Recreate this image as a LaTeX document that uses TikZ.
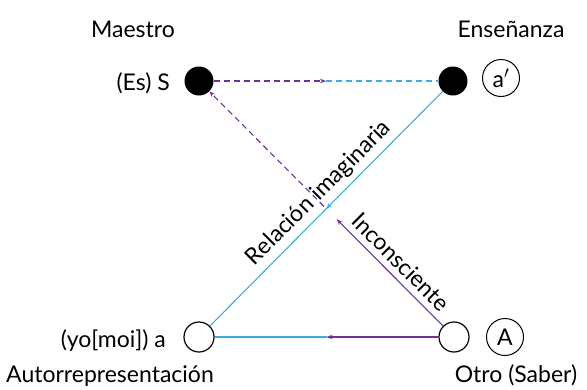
\documentclass[tikz,border=0pt]{standalone}
\usepackage{fontspec}
\setmainfont{Lato}
\usetikzlibrary{arrows.meta,calc,decorations.markings}
\definecolor{cblue}{RGB}{62,172,226}
\definecolor{cpurple}{RGB}{112,48,150}
\begin{document}
\begin{tikzpicture}[x=1pt,y=-1pt,
  txt/.style={font=\fontsize{23}{27}\selectfont, inner sep=0pt},
  fullnode/.style={circle, fill=black, minimum size=29pt, inner sep=0pt},
  hollownode/.style={circle, draw=black, line width=1.2pt, fill=white, minimum size=30pt, inner sep=0pt},
  tagnode/.style={circle, draw=black, line width=1pt, minimum size=37pt, inner sep=0pt, font=\fontsize{23}{27}\selectfont},
  tip/.style={-{Stealth[length=6pt,width=4.5pt]}},
  lnk/.style={line width=1.1pt},
  dsh/.style={line width=1.1pt, dash pattern=on 6pt off 4pt},
  midtip/.style={postaction={decorate}, decoration={markings, mark=at position 0.5 with {\arrow{Stealth[length=6pt,width=4.5pt]}}}}
]
\useasboundingbox (0,0) rectangle (587,389);
% nodes
\node[fullnode] (S) at (199,81) {};
\node[fullnode] (ap) at (453,81) {};
\node[hollownode] (a) at (199,337) {};
\node[hollownode] (A) at (454,337) {};
\node[tagnode] (tap) at (501,78) {a$'$};
\node[tagnode] (tA) at (505,337) {A};
% labels
\node[txt, anchor=base] (lMaestro) at (133,37) {Maestro};
\node[txt, anchor=base] (lEns) at (511,37) {Enseñanza};
\node[txt, anchor=base east] (lEs) at (170,90) {(Es) S};
\node[txt, anchor=base east] (lyo) at (166,347) {(yo[moi]) a};
\node[txt, anchor=base] (lAuto) at (110,382) {Autorrepresentación};
\node[txt, anchor=base] (lOtro) at (516,382) {Otro (Saber)};
% coordinates
\coordinate (T) at ($(S)!0.5!(ap)$);
\coordinate (B) at ($(A)!0.5!(a)$);
\coordinate (P1) at ($(A)!0.46!(S)$);
\coordinate (P2) at ($(A)!0.51!(S)$);
% connectors
\draw[dsh, color=cpurple, tip] (S) -- (T);
\draw[dsh, color=cblue] (T) -- (ap);
\draw[lnk, color=cblue, midtip] (ap) -- (a);
\draw[lnk, color=cpurple, tip] (A) -- (P1);
\draw[dsh, color=cpurple, tip] (P2) -- (S);
\draw[lnk, color=cpurple, tip] (A) -- (B);
\draw[lnk, color=cblue] (B) -- (a);
% edge labels
\node[txt, rotate=45] (lRel) at (319,193) {Relación imaginaria};
\node[txt, rotate=-45] (lInc) at (401,262) {Inconsciente};
\end{tikzpicture}
\end{document}
